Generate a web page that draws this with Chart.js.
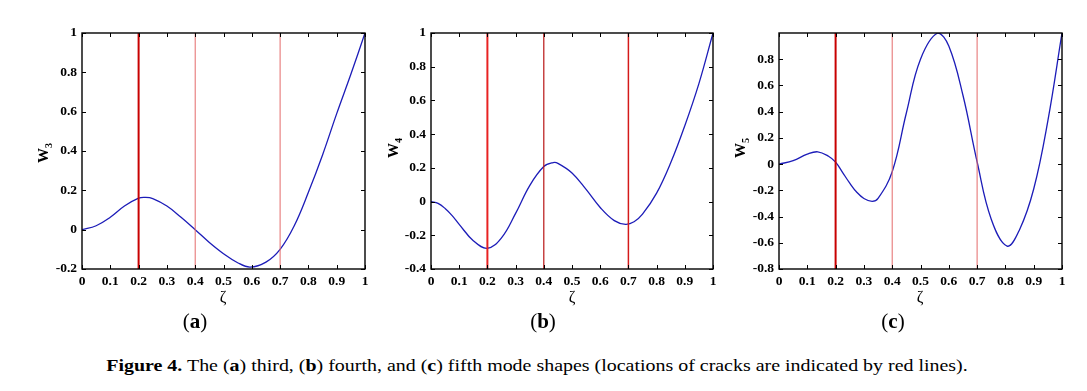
<!DOCTYPE html>
<html>
<head>
<meta charset="utf-8">
<script src="https://cdn.jsdelivr.net/npm/chart.js@4.4.1/dist/chart.umd.min.js"></script>
<style>
  html, body { margin: 0; padding: 0; background: #fff; }
  #page { position: relative; width: 1087px; height: 391px; overflow: hidden; }
  canvas { position: absolute; left: 0; top: 0; }
  .lbl { position: absolute; transform: translate(-50%, -50%); white-space: nowrap; font-family: "Liberation Serif", serif; color: #000; }
  .ytitle { font-weight: bold; font-size: 15px; transform: translate(-50%, -50%) rotate(-90deg); }
  .ytitle sub { font-size: 10px; }
  .zeta { font-size: 16px; }
  .cap { font-size: 21px; }
  .fig { font-size: 17px; }
</style>
</head>
<body>
<div id="page">
  <canvas id="chartA" width="1087" height="310"></canvas>
  <canvas id="chartB" width="1087" height="310"></canvas>
  <canvas id="chartC" width="1087" height="310"></canvas>

  <div class="lbl ytitle" style="left:44px; top:153px;">W<sub>3</sub></div>
  <div class="lbl ytitle" style="left:394px; top:148px;">W<sub>4</sub></div>
  <div class="lbl ytitle" style="left:741px; top:148px;">W<sub>5</sub></div>

  <div class="lbl zeta" style="left:223px; top:297px;">ζ</div>
  <div class="lbl zeta" style="left:572px; top:297px;">ζ</div>
  <div class="lbl zeta" style="left:920px; top:297px;">ζ</div>

  <div class="lbl cap" style="left:195px; top:321px;">(<b>a</b>)</div>
  <div class="lbl cap" style="left:543px; top:321px;">(<b>b</b>)</div>
  <div class="lbl cap" style="left:893px; top:321px;">(<b>c</b>)</div>

  <div id="pie" class="lbl fig" style="left:537px; top:366px;"><b>Figure 4.</b> The (<b>a</b>) third, (<b>b</b>) fourth, and (<b>c</b>) fifth mode shapes (locations of cracks are indicated by red lines).</div>
</div>

<script>
"use strict";
/* Datos */
const xTicks = [0, 0.1, 0.2, 0.3, 0.4, 0.5, 0.6, 0.7, 0.8, 0.9, 1];
const cracks = [0.2, 0.4, 0.7];

const zetaA = [0, 0.05, 0.1, 0.15, 0.2, 0.223, 0.25, 0.3, 0.35, 0.4, 0.45, 0.5, 0.55, 0.594, 0.65, 0.7, 0.75, 0.8, 0.85, 0.9, 0.95, 1];
const w3 = [0, 0.02, 0.063, 0.12, 0.16, 0.164, 0.158, 0.12, 0.063, 0, -0.065, -0.122, -0.168, -0.19, -0.165, -0.1, 0.02, 0.19, 0.38, 0.59, 0.79, 1];
const yTicksA = [-0.2, 0, 0.2, 0.4, 0.6, 0.8, 1];

const zetaB = [0, 0.025, 0.05, 0.075, 0.1, 0.15, 0.2, 0.25, 0.3, 0.35, 0.4, 0.433, 0.45, 0.5, 0.55, 0.6, 0.65, 0.69, 0.72, 0.75, 0.8, 0.85, 0.9, 0.95, 1];
const w4 = [0, -0.011, -0.041, -0.083, -0.135, -0.232, -0.277, -0.215, -0.07, 0.095, 0.208, 0.231, 0.227, 0.17, 0.072, -0.035, -0.113, -0.135, -0.12, -0.075, 0.05, 0.23, 0.45, 0.70, 1];
const yTicksB = [-0.4, -0.2, 0, 0.2, 0.4, 0.6, 0.8, 1];

const zetaC = [0, 0.05, 0.1, 0.137, 0.175, 0.2, 0.225, 0.25, 0.275, 0.3, 0.329, 0.35, 0.4, 0.45, 0.5, 0.561, 0.6, 0.65, 0.7, 0.75, 0.806, 0.85, 0.9, 0.95, 1];
const w5 = [0, 0.026, 0.076, 0.094, 0.06, 0.015, -0.065, -0.145, -0.215, -0.262, -0.284, -0.262, -0.058, 0.39, 0.80, 1.0, 0.90, 0.525, 0.018, -0.42, -0.625, -0.50, -0.19, 0.33, 1.0];
const yTicksC = [-0.8, -0.6, -0.4, -0.2, 0, 0.2, 0.4, 0.6, 0.8];

/* Formato de etiquetas */
function fmt(v) {
    const r = Math.round(v * 10) / 10;
    return r === 0 ? "0" : String(r);
}

/* Marco y marcas interiores estilo MATLAB */
const marcoPlugin = {
    id: "marco",
    afterDraw(chart) {
        const ctx = chart.ctx;
        const a = chart.chartArea;
        const sx = chart.scales.x;
        const sy = chart.scales.y;
        const len = 4;
        ctx.save();
        ctx.strokeStyle = "#000";
        ctx.lineWidth = 1;
        ctx.beginPath();
        sx.ticks.forEach(t => {
            const px = Math.round(sx.getPixelForValue(t.value)) + 0.5;
            ctx.moveTo(px, a.bottom); ctx.lineTo(px, a.bottom - len);
            ctx.moveTo(px, a.top); ctx.lineTo(px, a.top + len);
        });
        sy.ticks.forEach(t => {
            const py = Math.round(sy.getPixelForValue(t.value)) + 0.5;
            ctx.moveTo(a.left, py); ctx.lineTo(a.left + len, py);
            ctx.moveTo(a.right, py); ctx.lineTo(a.right - len, py);
        });
        ctx.stroke();
        ctx.lineWidth = 1.4;
        ctx.strokeRect(a.left, a.top, a.right - a.left, a.bottom - a.top);
        ctx.restore();
    }
};

/* Crear una gráfica */
function crearGrafica(id, zeta, w, yTicks, yMin, plotL, plotR, crackStyles) {
    const curva = zeta.map((z, i) => ({ x: z, y: w[i] }));
    const datasets = cracks.map((c, i) => ({
        data: [{ x: c, y: yMin }, { x: c, y: 1 }],
        borderColor: crackStyles[i].color,
        borderWidth: crackStyles[i].width,
        pointRadius: 0,
        showLine: true
    }));
    datasets.push({
        data: curva,
        borderColor: "#1c1cb8",
        borderWidth: 1.3,
        pointRadius: 0,
        showLine: true,
        tension: 0.4
    });

    const tickFont = { family: "Liberation Serif", size: 13.5, weight: "bold" };

    new Chart(document.getElementById(id), {
        type: "scatter",
        data: { datasets: datasets },
        options: {
            responsive: false,
            animation: false,
            layout: { padding: { left: 0, right: 1087 - plotR, top: 33, bottom: 0 } },
            plugins: { legend: { display: false }, tooltip: { enabled: false } },
            scales: {
                x: {
                    type: "linear",
                    min: 0,
                    max: 1,
                    grid: { display: false, drawTicks: false },
                    border: { display: false },
                    afterBuildTicks: s => { s.ticks = xTicks.map(v => ({ value: v })); },
                    afterFit: s => { s.height = 41; },
                    ticks: { font: tickFont, color: "#000", padding: 4, maxRotation: 0, autoSkip: false, callback: v => fmt(v) }
                },
                y: {
                    type: "linear",
                    min: yMin,
                    max: 1,
                    grid: { display: false, drawTicks: false },
                    border: { display: false },
                    afterBuildTicks: s => { s.ticks = yTicks.map(v => ({ value: v })); },
                    afterFit: s => { s.width = plotL; },
                    ticks: { font: tickFont, color: "#000", padding: 5, autoSkip: false, callback: v => fmt(v) }
                }
            }
        },
        plugins: [marcoPlugin]
    });
}

/* Ajustar el ancho del pie de figura */
function ajustarPie() {
    const pie = document.getElementById("pie");
    const ancho = pie.offsetWidth;
    pie.style.transform = "translate(-50%, -50%) scaleX(" + (861 / ancho).toFixed(3) + ")";
}

document.addEventListener("DOMContentLoaded", () => {
    crearGrafica("chartA", zetaA, w3, yTicksA, -0.2, 82, 365, [
        { color: "#c80000", width: 2 },
        { color: "#e46a6a", width: 1 },
        { color: "#e46a6a", width: 1 }
    ]);
    crearGrafica("chartB", zetaB, w4, yTicksB, -0.4, 431, 713, [
        { color: "#e82222", width: 2 },
        { color: "#b81414", width: 1.2 },
        { color: "#d41a1a", width: 1.5 }
    ]);
    crearGrafica("chartC", zetaC, w5, yTicksC, -0.8, 779, 1062, [
        { color: "#c80000", width: 2 },
        { color: "#e46a6a", width: 1 },
        { color: "#e46a6a", width: 1 }
    ]);
    ajustarPie();
});
</script>
</body>
</html>
